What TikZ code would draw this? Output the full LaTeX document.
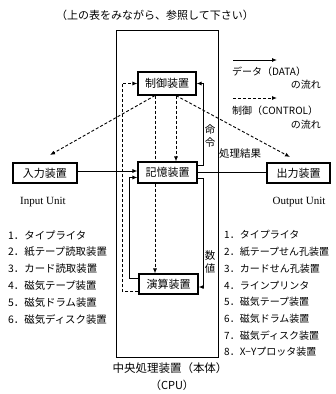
\documentclass[tikz,border=0pt]{standalone}
\usepackage{fontspec}
\setmainfont{Liberation Serif}
\newfontfamily\jp{Noto Sans CJK JP}
\usetikzlibrary{arrows.meta,calc}
\begin{document}
\begin{tikzpicture}[x=1pt,y=-1pt,
  unit/.style={draw,line width=1.1pt,fill=white,inner sep=0pt,minimum height=21pt,font=\jp\fontsize{11}{11}\selectfont},
  flow/.style={line width=0.9pt,-{Latex[length=5pt,width=4pt]}},
  ctl/.style={flow,dash pattern=on 3pt off 2pt},
  plain/.style={line width=0.9pt},
  lst/.style={anchor=west,font=\jp\fontsize{10.4}{10}\selectfont,inner sep=0pt},
  lbl/.style={font=\jp\fontsize{10.5}{12.5}\selectfont,inner sep=0pt,align=center},
  leg/.style={font=\jp\fontsize{10}{10}\selectfont,inner sep=0pt},
  eng/.style={font=\fontsize{11}{12}\selectfont,inner sep=0pt}
]
\useasboundingbox (0,0) rectangle (336,394);
% CPU frame
\node[draw,line width=1pt,minimum width=102pt,minimum height=327pt,inner sep=0pt] (cpu) at (167,193.5) {};
% units
\node[unit,minimum width=58pt,minimum height=23pt] (ctrl) at (167,83.5) {制御装置};
\node[unit,minimum width=59pt] (mem) at (167.5,172.5) {記憶装置};
\node[unit,minimum width=59pt,minimum height=20pt] (alu) at (168.5,284) {演算装置};
\node[unit,minimum width=64pt,minimum height=20pt] (inp) at (45,173) {入力装置};
\node[unit,minimum width=63pt,minimum height=20pt] (out) at (298.5,173) {出力装置};
% helper coordinates
\coordinate (rx) at (203,0);
\coordinate (ax) at (155,0);
\coordinate (bx) at (176,0);
\coordinate (ar) at (203,287);
\coordinate (al) at (129,278);
\coordinate (dl) at (122,291);
\coordinate (ti) at (50,155);
\coordinate (to) at (290,157);
% data flow
\draw[flow] ([yshift=2pt]inp.east) -- ([yshift=2pt]inp.east -| mem.west);
\draw[plain] (mem.east) -- (mem.east -| out.west);
\draw[flow] ([yshift=7pt]mem.east) -| (rx |- ctrl.east) -- (ctrl.east);
\draw[flow] ([yshift=-6pt]mem.east) -| (ar) -- (ar -| alu.east);
\draw[flow] (al -| alu.west) -- (al) |- ([yshift=-5pt]mem.west);
% control flow
\draw[ctl] (dl -| alu.west) -- (dl) |- (ctrl.west);
\draw[ctl] (bx |- ctrl.south) -- (bx |- mem.north);
\draw[ctl,-] (ax |- ctrl.south) -- (ax |- mem.north);
\draw[ctl] (ax |- mem.south) -- (ax |- alu.north);
\draw[ctl] (ax |- ctrl.south) -- (ti);
\draw[ctl] (bx |- ctrl.south) -- (to);
% legend
\coordinate (l1a) at (233,60);
\coordinate (l1b) at (277,60);
\coordinate (l2a) at (233,98);
\coordinate (l2b) at (277,98);
\draw[flow] (l1a) -- (l1b);
\draw[ctl] (l2a) -- (l2b);
\node[leg,anchor=west] (lg1) at (232,72) {データ（DATA）};
\node[leg,anchor=east] (lg2) at (321,85) {の流れ};
\node[leg,anchor=west] (lg3) at (232,111) {制御（CONTROL）};
\node[leg,anchor=east] (lg4) at (321,125) {の流れ};
% labels
\node[lbl,font=\jp\fontsize{11}{12}\selectfont] (title) at (155,15) {（上の表をみながら、参照して下さい）};
\node[lbl] (cmd) at (210,136) {命\\令};
\node[lbl] (res) at (240,154) {処理結果};
\node[lbl] (num) at (210,262) {数\\値};
\node[eng] (inen) at (43,202) {Input Unit};
\node[eng] (outen) at (299,202) {Output Unit};
% lists
\foreach \t [count=\i] in {タイプライタ,紙テープ読取装置,カード読取装置,磁気テープ装置,磁気ドラム装置,磁気ディスク装置}
  \node[lst] (L\i) at (8,{235+17*(\i-1)}) {\i．\t};
\foreach \t [count=\i] in {タイプライタ,紙テープせん孔装置,カードせん孔装置,ラインプリンタ,磁気テープ装置,磁気ドラム装置,磁気ディスク装置,X−Yプロッタ装置}
  \node[lst,font=\jp\fontsize{10}{10}\selectfont] (R\i) at (224,{235+16.7*(\i-1)}) {\i．\t};
% CPU caption
\node[font=\jp\fontsize{11.5}{12}\selectfont,inner sep=0pt] (cpulbl) at (170,368) {中央処理装置（本体）};
\node[font=\jp\fontsize{11}{12}\selectfont,inner sep=0pt] (cpuen) at (172,385) {（CPU）};
\end{tikzpicture}
\end{document}
